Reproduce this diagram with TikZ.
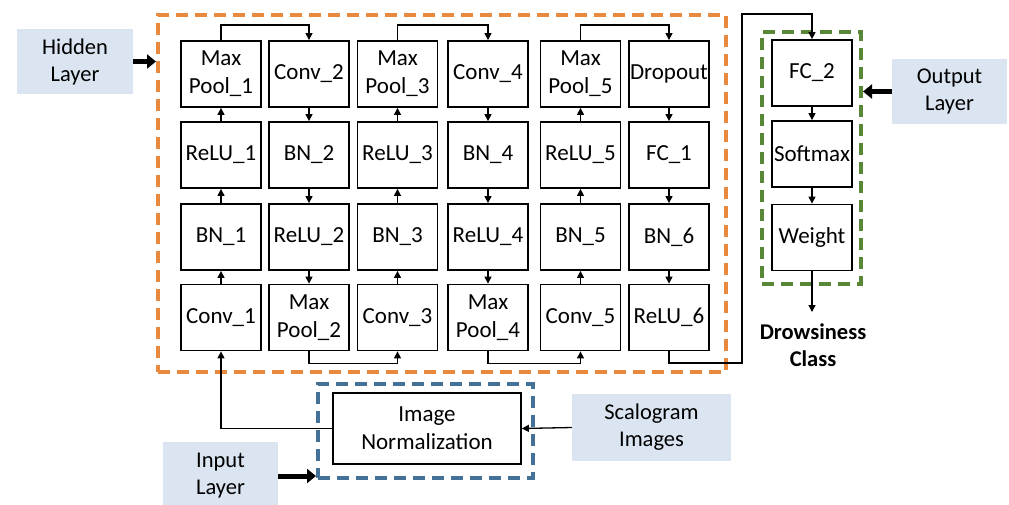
\documentclass[tikz,border=0pt]{standalone}
\usepackage{fontspec}
\setmainfont{Carlito}
\usetikzlibrary{arrows.meta}
\definecolor{lblue}{RGB}{219,229,241}
\definecolor{dorange}{RGB}{232,137,62}
\definecolor{dgreen}{RGB}{88,135,55}
\definecolor{dblue}{RGB}{68,113,152}
\tikzset{
  blk/.style={draw, line width=1.8pt, minimum width=80pt, minimum height=66pt, inner sep=0pt, align=center, font=\fontsize{23}{28}\selectfont},
  lbl/.style={fill=lblue, inner sep=0pt, align=center, font=\fontsize{22.5}{27}\selectfont},
  conn/.style={line width=1.3pt, -{Triangle[length=7pt,width=7pt]}},
  fat/.style={line width=5pt, -{Triangle[length=9pt,width=14pt]}},
  grp/.style={line width=4pt, dash pattern=on 12pt off 7pt, inner sep=0pt},
}
\begin{document}
\begin{tikzpicture}[x=1pt,y=-1pt]
\useasboundingbox (0,0) rectangle (1009,504);
% group boxes
\node[grp, draw=dorange, minimum width=568pt, minimum height=357pt] (hidbox) at (442,193.5) {};
\node[grp, draw=dgreen, minimum width=99pt, minimum height=252pt] (outbox) at (811.5,158) {};
\node[grp, draw=dblue, minimum width=215pt, minimum height=94pt] (inbox) at (425.5,431) {};
% column 1
\node[blk] (mp1) at (221,74) {Max\\Pool\_1};
\node[blk] (relu1) at (221,155) {ReLU\_1};
\node[blk] (bn1) at (221,237) {BN\_1};
\node[blk] (conv1) at (221,317.5) {Conv\_1};
% column 2
\node[blk] (conv2) at (309,74) {Conv\_2};
\node[blk] (bn2) at (309,155) {BN\_2};
\node[blk] (relu2) at (309,237) {ReLU\_2};
\node[blk] (mp2) at (309,317.5) {Max\\Pool\_2};
% column 3
\node[blk] (mp3) at (397.5,74) {Max\\Pool\_3};
\node[blk] (relu3) at (397.5,155) {ReLU\_3};
\node[blk] (bn3) at (397.5,237) {BN\_3};
\node[blk] (conv3) at (397.5,317.5) {Conv\_3};
% column 4
\node[blk] (conv4) at (488,74) {Conv\_4};
\node[blk] (bn4) at (488,155) {BN\_4};
\node[blk] (relu4) at (488,237) {ReLU\_4};
\node[blk] (mp4) at (488,317.5) {Max\\Pool\_4};
% column 5
\node[blk] (mp5) at (580.5,74) {Max\\Pool\_5};
\node[blk] (relu5) at (580.5,155) {ReLU\_5};
\node[blk] (bn5) at (580.5,237) {BN\_5};
\node[blk] (conv5) at (580.5,317.5) {Conv\_5};
% column 6
\node[blk] (drop) at (669,74) {Dropout};
\node[blk] (fc1) at (669,155) {FC\_1};
\node[blk] (bn6) at (669,237) {BN\_6};
\node[blk] (relu6) at (669,317.5) {ReLU\_6};
% output column
\node[blk] (fc2) at (812,73) {FC\_2};
\node[blk] (soft) at (812,154) {Softmax};
\node[blk] (wgt) at (812,237.5) {Weight};
% input
\node[blk, minimum width=188pt, minimum height=71pt] (imn) at (427,428.5) {Image\\Normalization};
% labels
\node[lbl, minimum width=116pt, minimum height=65pt] (hl) at (75,61.5) {Hidden\\Layer};
\node[lbl, minimum width=115pt, minimum height=65pt] (ol) at (949.5,91.5) {Output\\Layer};
\node[lbl, minimum width=159pt, minimum height=67pt] (scal) at (651.5,427.5) {Scalogram\\Images};
\node[lbl, minimum width=115pt, minimum height=68pt] (inl) at (220.5,476) {Input\\Layer};
\node[align=center, inner sep=0pt, font=\fontsize{22.5}{27}\selectfont\bfseries] (dc) at (813,345) {Drowsiness\\Class};
% fat arrows
\draw[fat] (hl.east) -- (hl.east -| hidbox.west);
\draw[fat] (ol.west) -- (ol.west -| outbox.east);
\draw[fat] (inl.east) -- (inl.east -| inbox.west);
% vertical chains
\draw[conn] (conv1) -- (bn1);
\draw[conn] (bn1) -- (relu1);
\draw[conn] (relu1) -- (mp1);
\draw[conn] (conv2) -- (bn2);
\draw[conn] (bn2) -- (relu2);
\draw[conn] (relu2) -- (mp2);
\draw[conn] (conv3) -- (bn3);
\draw[conn] (bn3) -- (relu3);
\draw[conn] (relu3) -- (mp3);
\draw[conn] (conv4) -- (bn4);
\draw[conn] (bn4) -- (relu4);
\draw[conn] (relu4) -- (mp4);
\draw[conn] (conv5) -- (bn5);
\draw[conn] (bn5) -- (relu5);
\draw[conn] (relu5) -- (mp5);
\draw[conn] (drop) -- (fc1);
\draw[conn] (fc1) -- (bn6);
\draw[conn] (bn6) -- (relu6);
\draw[conn] (fc2) -- (soft);
\draw[conn] (soft) -- (wgt);
% brackets
\draw[conn] (mp1.north) -- ++(0,-15) -| (conv2.north);
\draw[conn] (mp3.north) -- ++(0,-15) -| (conv4.north);
\draw[conn] (mp5.north) -- ++(0,-15) -| (drop.north);
\draw[conn] (mp2.south) -- ++(0,12) -| (conv3.south);
\draw[conn] (mp4.south) -- ++(0,12) -| (conv5.south);
% to output column
\coordinate (jr) at (742,363);
\coordinate (jt) at (742,14);
\draw[conn] (relu6.south) |- (jr) -- (jt) -| (fc2.north);
\coordinate (outend) at (812,312);
\draw[conn] (wgt.south) -- (outend);
% input connections
\draw[conn] (imn.west) -| (conv1.south);
\draw[conn] (scal.west) -- (imn.east);
\end{tikzpicture}
\end{document}
